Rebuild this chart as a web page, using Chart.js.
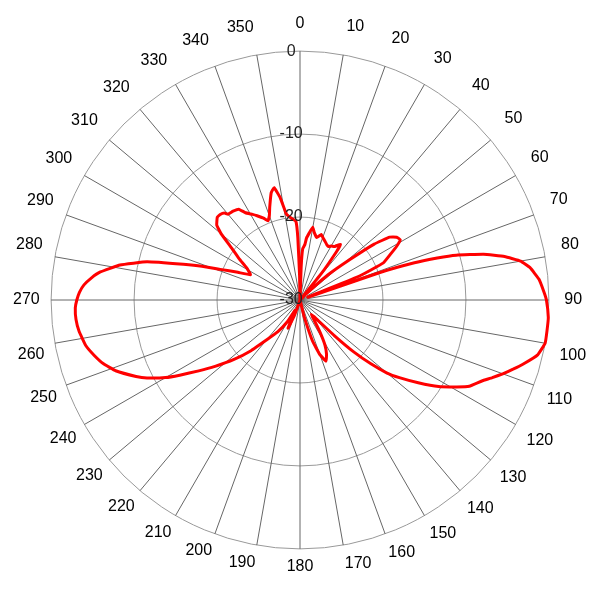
<!DOCTYPE html>
<html>
<head>
<meta charset="utf-8">
<script src="https://cdn.jsdelivr.net/npm/chart.js@4/dist/chart.umd.min.js"></script>
<style>
  body { margin: 0; background: #fff; }
  #wrap { width: 600px; height: 600px; }
</style>
</head>
<body>
<div id="wrap"><canvas id="polarChart"></canvas></div>
<script>
// pattern: angle (deg, clockwise from top) and level (dB)
var angles = [0, 2, 3, 5, 6, 8, 10, 12, 15, 18, 21, 23, 26, 28, 30, 33, 36, 37, 39, 41,
  45, 48, 51, 53, 55, 57, 59, 61, 63, 66, 68, 70,
  71, 72, 73, 74, 76, 78, 80, 82, 85, 88, 90, 94, 97, 100, 103, 106, 108, 110, 112, 114,
  117, 119, 122, 125, 128, 130, 132, 134, 136, 139,
  142, 145, 148, 151, 154, 157, 160, 163, 166, 169, 180, 195,
  200, 203, 206, 210, 215, 220, 224, 228, 232, 235, 238, 240, 243, 245, 249, 252, 255, 258,
  262, 265, 268, 270, 272, 274, 276, 278, 281, 284, 287, 289, 291, 294, 297,
  301, 304, 307, 310, 312, 315, 317, 319, 320, 323, 326, 328, 331, 333, 336, 338,
  340, 342, 345, 347, 349, 351, 354, 357, 358, 359];
var gain = [-30, -26, -23.8, -23.3, -22.5, -21.8, -21.1, -21.7, -22.2, -21.7, -22.1, -22.3, -22.6, -22.7, -22.5, -22.3, -21.7, -22.6, -26, -30,
  -29, -25.5, -22.2, -18.8, -16.8, -16.1, -15.9, -16.7, -17.7, -19, -22.2, -29,
  -20, -15.5, -12.7, -10.4, -7.2, -4.8, -3, -2.0, -1.1, -0.6, -0.3, 0, 0, 0, -0.6, -2, -3, -4, -5, -6,
  -7.1, -8.4, -10.3, -12.6, -14.8, -16.3, -18.5, -21, -24, -27,
  -27.8, -27, -25.5, -23.8, -22.7, -22.0, -23, -24.8, -28, -30, -30, -30,
  -28, -26.3, -28.6, -27, -25.3, -23.7, -21.5, -19.3, -17, -15.1, -12.9, -11.3, -9.3, -8.2, -6.2, -5.1, -4.3, -3.6,
  -3.1, -2.9, -2.9, -3.1, -3.4, -3.9, -4.7, -5.7, -7.9, -11, -15.3, -17.5, -19.7, -21.8, -23.3,
  -22.5, -21.2, -19.8, -17.6, -16.5, -15.9, -15.9, -16.1, -16.5, -16.6, -16.8, -17.6, -18.2, -18.6, -19.2, -19.7,
  -19.2, -18.2, -16.6, -16.1, -17.4, -19.5, -20.1, -20.5, -22.5, -27];

var radialTicks = [0, -10, -20, -30];

// one category per degree, only every 10th gets a label / spoke
var degLabels = [];
var levels = [];
for (var d = 0; d < 360; d++) {
  degLabels.push(String(d));
  levels.push(null);
}
for (var i = 0; i < angles.length; i++) {
  levels[angles[i]] = gain[i];
}

// labels sit a bit further out on top than at the bottom
function labelPad(c) {
  var a = c.index * Math.PI / 180;
  return 15 + 5 * Math.cos(a) + 2 * Math.sin(a) - 11.6;
}

var ctx = document.getElementById('polarChart').getContext('2d');
var chart = new Chart(ctx, {
  type: 'radar',
  data: {
    labels: degLabels,
    datasets: [{
      data: levels,
      borderColor: '#ff0000',
      borderWidth: 3,
      fill: false,
      pointRadius: 0,
      pointHoverRadius: 0,
      tension: 0.1,
      spanGaps: true
    }]
  },
  options: {
    responsive: true,
    maintainAspectRatio: false,
    animation: false,
    layout: { padding: { left: 13, right: 13, top: 0, bottom: 8 } },
    plugins: { legend: { display: false }, tooltip: { enabled: false } },
    scales: {
      r: {
        min: -30,
        max: 0,
        afterBuildTicks: function(scale) {
          scale.ticks = radialTicks.slice().reverse().map(function(v) { return { value: v }; });
        },
        ticks: {
          color: '#222',
          font: { family: 'Arial, "Liberation Sans"', size: 16 },
          showLabelBackdrop: false,
          z: 1,
          callback: function(v) { return v + '    '; }
        },
        grid: { circular: true, color: '#999', lineWidth: 1 },
        angleLines: {
          color: function(c) { return c.index % 10 === 0 ? '#666' : 'rgba(0,0,0,0)'; },
          lineWidth: 1
        },
        pointLabels: {
          color: '#000',
          font: { family: 'Arial, "Liberation Sans"', size: 16 },
          padding: labelPad,
          callback: function(label, index) { return index % 10 === 0 ? label : ''; }
        }
      }
    }
  }
});
</script>
</body>
</html>
